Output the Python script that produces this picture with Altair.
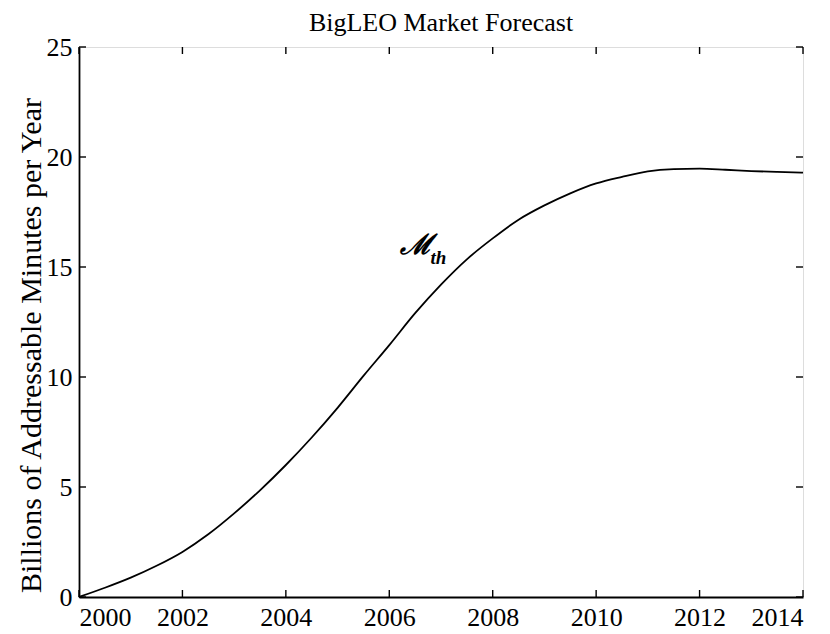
import altair as alt
import pandas as pd

# Forecast curve: year vs billions of addressable minutes per year
years = [2000, 2000.5, 2001, 2001.5, 2002, 2002.5, 2003, 2003.5, 2004, 2004.5,
         2005, 2005.5, 2006, 2006.5, 2007, 2007.5, 2008, 2008.5, 2009, 2009.5,
         2010, 2010.5, 2011, 2011.5, 2012, 2012.5, 2013, 2013.5, 2014]
minutes = [0.0, 0.42, 0.88, 1.42, 2.05, 2.85, 3.8, 4.85, 6.0, 7.25,
           8.6, 10.05, 11.45, 12.9, 14.2, 15.35, 16.3, 17.15, 17.8, 18.35,
           18.8, 19.1, 19.35, 19.45, 19.47, 19.42, 19.36, 19.32, 19.29]

x_ticks = [2000, 2002, 2004, 2006, 2008, 2010, 2012, 2014]
y_ticks = [0, 5, 10, 15, 20, 25]

# Curve label  M_th
label_main = ["ℳ"]
label_main_pos = [(2006.52, 15.95)]
label_sub = ["th"]
label_sub_pos = [(2006.95, 15.4)]

W, H = 724, 550
FONT = "Liberation Serif"
TICK = 7

df = pd.DataFrame({"year": years, "minutes": minutes})
xs = alt.Scale(domain=[2000, 2014], nice=False, zero=False)
ys = alt.Scale(domain=[0, 25], nice=False)

line = alt.Chart(df).mark_line(color="black", strokeWidth=1.8, interpolate="monotone").encode(
    x=alt.X("year:Q", scale=xs,
            axis=alt.Axis(values=x_ticks, format="d", title=None, ticks=False,
                          labelPadding=7, labelFontSize=26, labelFont=FONT,
                          labelColor="black", domainColor="black", domainWidth=1.8,
                          grid=False)),
    y=alt.Y("minutes:Q", scale=ys,
            axis=alt.Axis(values=y_ticks, title="Billions of Addressable Minutes per Year",
                          ticks=False, labelPadding=7, labelFontSize=26, labelFont=FONT,
                          labelColor="black", titleFont=FONT, titleFontSize=30,
                          titleFontWeight="normal", titleColor="black", titlePadding=0,
                          titleY=298,
                          domainColor="black", domainWidth=1.8, grid=False)),
)

xt = pd.DataFrame({"year": x_ticks})
yt = pd.DataFrame({"v": y_ticks})

# Inward tick marks on all four sides
bottom_ticks = alt.Chart(xt).mark_rule(color="black", strokeWidth=1.4).encode(
    x=alt.X("year:Q", scale=xs), y=alt.value(H), y2=alt.value(H - TICK))
top_ticks = alt.Chart(xt).mark_rule(color="black", strokeWidth=1.4).encode(
    x=alt.X("year:Q", scale=xs), y=alt.value(0), y2=alt.value(TICK))
left_ticks = alt.Chart(yt).mark_rule(color="black", strokeWidth=1.4).encode(
    y=alt.Y("v:Q", scale=ys), x=alt.value(0), x2=alt.value(TICK))
right_ticks = alt.Chart(yt).mark_rule(color="black", strokeWidth=1.4).encode(
    y=alt.Y("v:Q", scale=ys), x=alt.value(W), x2=alt.value(W - TICK))

lm = pd.DataFrame({"t": label_main, "x": [p[0] for p in label_main_pos],
                   "y": [p[1] for p in label_main_pos]})
ls = pd.DataFrame({"t": label_sub, "x": [p[0] for p in label_sub_pos],
                   "y": [p[1] for p in label_sub_pos]})

main_text = alt.Chart(lm).mark_text(font="DejaVu Serif", fontSize=28, fontStyle="italic",
                                    fontWeight="bold", color="black").encode(
    x=alt.X("x:Q", scale=xs), y=alt.Y("y:Q", scale=ys), text="t:N")
sub_text = alt.Chart(ls).mark_text(font=FONT, fontSize=19, fontStyle="italic",
                                   fontWeight="bold", color="black").encode(
    x=alt.X("x:Q", scale=xs), y=alt.Y("y:Q", scale=ys), text="t:N")

chart = alt.layer(line, bottom_ticks, top_ticks, left_ticks, right_ticks,
                  main_text, sub_text).properties(
    width=W, height=H,
    title=alt.TitleParams("BigLEO Market Forecast", font=FONT, fontSize=26,
                          fontWeight="normal", color="black", offset=0, dy=23,
                          baseline="alphabetic", anchor="middle"),
    padding={"left": 79, "top": 47, "right": 27, "bottom": 37},
    autosize=alt.AutoSizeParams(type="none"),
).configure_view(stroke="black", strokeWidth=1.8).configure(background="white")

chart.save("out.html", embed_options={"renderer": "svg", "actions": False})
